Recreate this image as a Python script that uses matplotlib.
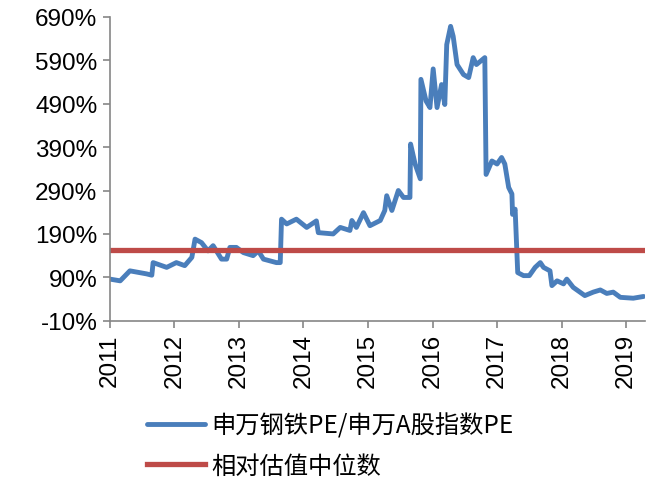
import matplotlib.pyplot as plt
from matplotlib.ticker import FuncFormatter

# 申万钢铁PE / 申万A股指数PE (year fraction, %)
years = [2011.00, 2011.16, 2011.31, 2011.57, 2011.65, 2011.67, 2011.88, 2012.03,
         2012.16, 2012.27, 2012.32, 2012.42, 2012.52, 2012.60, 2012.68, 2012.73,
         2012.81, 2012.86, 2012.96, 2013.07, 2013.22, 2013.30, 2013.38, 2013.58,
         2013.64, 2013.66, 2013.74, 2013.89, 2014.05, 2014.20, 2014.23, 2014.46,
         2014.57, 2014.72, 2014.75, 2014.82, 2014.93, 2015.03, 2015.19, 2015.26,
         2015.29, 2015.37, 2015.47, 2015.55, 2015.65, 2015.66, 2015.73, 2015.81,
         2015.82, 2015.90, 2015.96, 2016.01, 2016.07, 2016.14, 2016.19, 2016.22,
         2016.28, 2016.32, 2016.38, 2016.48, 2016.56, 2016.63, 2016.68, 2016.81,
         2016.83, 2016.92, 2017.00, 2017.07, 2017.12, 2017.18, 2017.23, 2017.24,
         2017.28, 2017.32, 2017.41, 2017.50, 2017.59, 2017.67, 2017.72, 2017.82,
         2017.85, 2017.93, 2018.03, 2018.08, 2018.18, 2018.36, 2018.49, 2018.60,
         2018.70, 2018.80, 2018.91, 2019.11, 2019.27]
ratio = [86, 82, 105, 98, 95, 124, 113, 124,
         117, 136, 178, 170, 151, 163, 144, 132,
         132, 159, 159, 147, 140, 151, 132, 124,
         124, 224, 213, 224, 205, 220, 193, 190,
         205, 198, 221, 205, 239, 209, 221, 244,
         278, 244, 290, 274, 274, 397, 351, 317,
         546, 496, 481, 570, 481, 534, 488, 626,
         668, 645, 580, 557, 550, 596, 580, 596,
         327, 358, 351, 366, 351, 297, 282, 235,
         247, 101, 94, 94, 113, 124, 113, 105,
         71, 82, 75, 86, 67, 48, 56, 61,
         53, 56, 44, 42, 46]
median = 154

yticks = [-10, 90, 190, 290, 390, 490, 590, 690]
xticks = list(range(2011, 2020))

blue = '#4A7EBB'
red = '#BE4B48'
grey = '#868686'

fig = plt.figure(figsize=(6.54, 4.81), dpi=100)
ax = fig.add_axes([0.168, 0.331, 0.818, 0.632])

ax.plot(years, ratio, color=blue, lw=3.5, solid_joinstyle='round',
        solid_capstyle='round', label='申万钢铁PE/申万A股指数PE')
ax.axhline(median, color=red, lw=3.8, label='相对估值中位数')

ax.set_ylim(-10, 690)
ax.set_xlim(2011, 2019.29)
ax.set_yticks(yticks)
ax.set_xticks(xticks)
ax.yaxis.set_major_formatter(FuncFormatter(lambda v, p: f'{v:.0f}%'))
ax.set_xticklabels([str(x) for x in xticks], rotation=90)

for s in ['top', 'right']:
    ax.spines[s].set_visible(False)
for s in ['left', 'bottom']:
    ax.spines[s].set_color(grey)
    ax.spines[s].set_linewidth(1.2)
ax.tick_params(colors=grey, length=5, width=1.2, direction='out')
for lab in ax.get_xticklabels() + ax.get_yticklabels():
    lab.set_color('black')
    lab.set_fontfamily('Liberation Sans')
    lab.set_fontsize(17.5)
ax.tick_params(axis='y', pad=4)
ax.tick_params(axis='x', pad=4)

h, l = ax.get_legend_handles_labels()
fig.legend(h, l, loc='upper left', bbox_to_anchor=(0.206, 0.165),
           frameon=False, borderpad=0, handlelength=2.4, handletextpad=0.25,
           labelspacing=0.57,
           prop={'family': ['Noto Sans CJK SC', 'DejaVu Sans'], 'size': 17.5})

fig.savefig('out.png', dpi=100)
